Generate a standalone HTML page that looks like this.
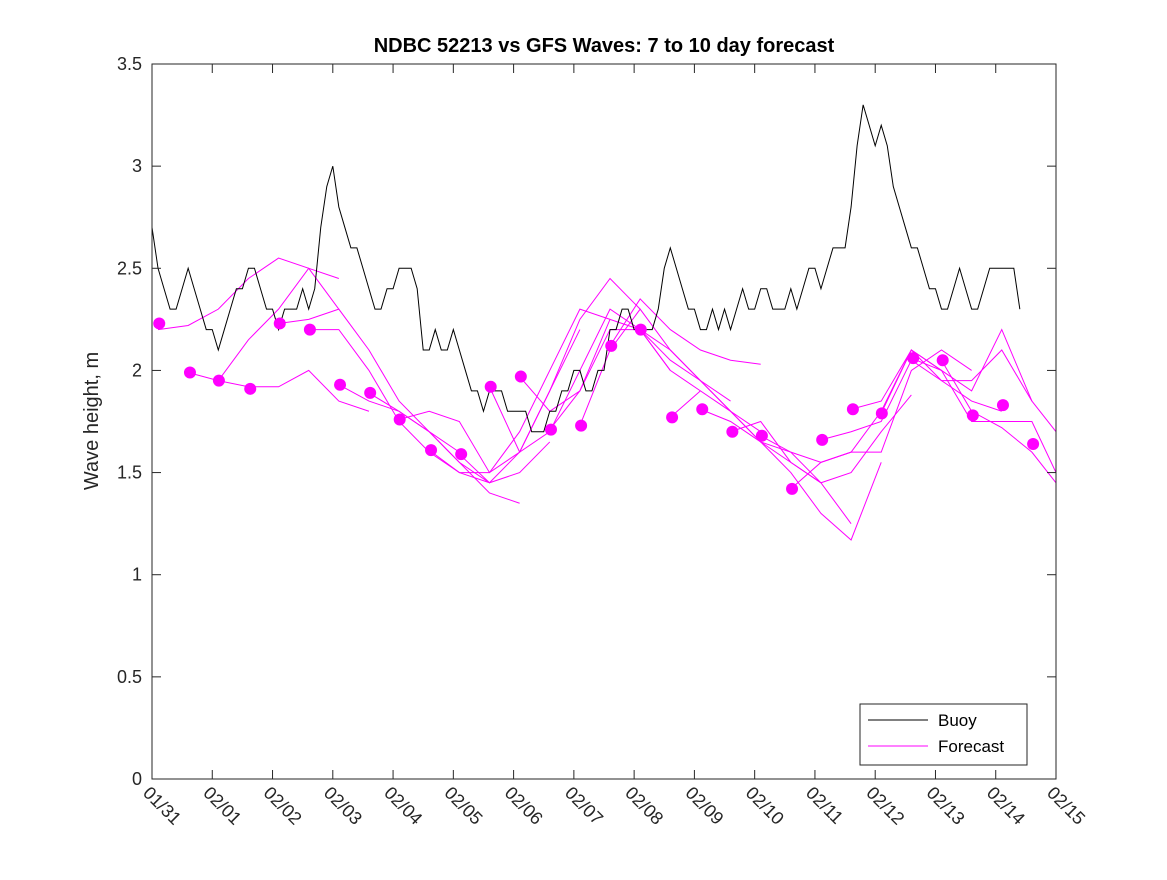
<!DOCTYPE html>
<html><head><meta charset="utf-8"><style>
body{margin:0;background:#fff;}
svg text{font-family:"Liberation Sans","DejaVu Sans",sans-serif;}
</style></head><body>
<svg id="chart" width="1167" height="875" viewBox="0 0 1167 875" xmlns="http://www.w3.org/2000/svg">
<rect width="1167" height="875" fill="#fff"/>
<text x="604" y="52" text-anchor="middle" font-size="20" font-weight="bold" fill="#000">NDBC 52213 vs GFS Waves: 7 to 10 day forecast</text>
<text transform="translate(98,421) rotate(-90)" text-anchor="middle" font-size="20" fill="#262626">Wave height, m</text>
<g id="plot"></g>
</svg>
<script>
const xTickLabels=["01/31","02/01","02/02","02/03","02/04","02/05","02/06","02/07","02/08","02/09","02/10","02/11","02/12","02/13","02/14","02/15"];
const yTickValues=[0,0.5,1,1.5,2,2.5,3,3.5];
const yTickLabels=["0","0.5","1","1.5","2","2.5","3","3.5"];
const buoyStart=0, buoyStep=0.1;
const buoyValues=[2.7,2.5,2.4,2.3,2.3,2.4,2.5,2.4,2.3,2.2,2.2,2.1,2.2,2.3,2.4,2.4,2.5,2.5,2.4,2.3,2.3,2.2,2.3,2.3,2.3,2.4,2.3,2.4,2.7,2.9,3.0,2.8,2.7,2.6,2.6,2.5,2.4,2.3,2.3,2.4,2.4,2.5,2.5,2.5,2.4,2.1,2.1,2.2,2.1,2.1,2.2,2.1,2.0,1.9,1.9,1.8,1.9,1.9,1.9,1.8,1.8,1.8,1.8,1.7,1.7,1.7,1.8,1.8,1.9,1.9,2.0,2.0,1.9,1.9,2.0,2.0,2.2,2.2,2.3,2.3,2.2,2.2,2.2,2.2,2.3,2.5,2.6,2.5,2.4,2.3,2.3,2.2,2.2,2.3,2.2,2.3,2.2,2.3,2.4,2.3,2.3,2.4,2.4,2.3,2.3,2.3,2.4,2.3,2.4,2.5,2.5,2.4,2.5,2.6,2.6,2.6,2.8,3.1,3.3,3.2,3.1,3.2,3.1,2.9,2.8,2.7,2.6,2.6,2.5,2.4,2.4,2.3,2.3,2.4,2.5,2.4,2.3,2.3,2.4,2.5,2.5,2.5,2.5,2.5,2.3];
const dotDays=[0.12,0.63,1.11,1.63,2.12,2.62,3.12,3.62,4.11,4.63,5.13,5.62,6.12,6.62,7.12,7.62,8.11,8.63,9.13,9.63,10.12,10.62,11.12,11.63,12.11,12.63,13.12,13.62,14.12,14.62];
const dotValues=[2.23,1.99,1.95,1.91,2.23,2.20,1.93,1.89,1.76,1.61,1.59,1.92,1.97,1.71,1.73,2.12,2.20,1.77,1.81,1.70,1.68,1.42,1.66,1.81,1.79,2.06,2.05,1.78,1.83,1.64];
const fcStarts=[0.1,0.6,1.1,2.1,2.6,3.1,3.6,4.1,4.6,5.1,5.6,6.1,6.6,7.1,7.6,8.1,8.6,9.1,9.6,10.1,10.6,11.1,11.6,12.1,12.6,13.1];
const fcStep=0.5;
const fcValues=[
[2.2,2.22,2.3,2.45,2.55,2.5,2.3],
[1.99,1.95,1.92,1.92,2.0,1.85,1.8],
[1.95,2.15,2.3,2.5,2.45],
[2.23,2.25,2.3,2.1,1.85,1.7,1.6],
[2.2,2.2,2.0,1.75,1.6,1.5,1.45],
[1.93,1.85,1.8,1.7,1.55,1.4,1.35],
[1.89,1.8,1.7,1.55,1.45,1.5,1.65],
[1.76,1.8,1.75,1.5,1.6,1.9,2.2],
[1.61,1.5,1.5,1.7,2.0,2.3,2.25],
[1.59,1.45,1.6,1.9,2.25,2.45,2.3],
[1.92,1.6,1.7,2.0,2.3,2.2,2.0],
[1.97,1.8,1.9,2.2,2.2,2.0,1.9],
[1.71,1.9,2.25,2.2,2.05,1.95,1.85],
[1.73,2.1,2.3,2.1,1.95,1.8,1.7],
[2.12,2.35,2.2,2.1,2.05,2.03],
[2.2,2.1,1.95,1.8,1.65,1.55,1.45],
[1.77,1.9,1.8,1.65,1.6,1.45,1.25],
[1.81,1.75,1.65,1.5,1.3,1.17,1.55],
[1.70,1.75,1.55,1.45,1.5,1.7,1.88],
[1.68,1.6,1.55,1.6,1.8,2.1,2.0],
[1.42,1.55,1.6,1.6,2.0,2.1,2.0],
[1.66,1.7,1.75,2.05,1.95,1.85,1.8],
[1.81,1.85,2.1,2.0,1.9,2.2,1.85],
[1.79,2.1,1.95,1.95,2.1,1.85,1.7],
[2.06,2.0,1.75,1.75,1.75,1.5],
[2.05,1.8,1.72,1.6,1.45,1.38]
];
const X0=152,X1=1056,Y0=779,Y1=64,DMAX=15,VMAX=3.5;
const xs=d=>X0+(Math.min(d,DMAX))/DMAX*(X1-X0);
const ys=v=>Y0-v/VMAX*(Y0-Y1);
const NS="http://www.w3.org/2000/svg";
const g=document.getElementById('plot');
function mk(t,a){const e=document.createElementNS(NS,t);for(const k in a)e.setAttribute(k,a[k]);g.appendChild(e);return e;}
const defs=mk('defs',{});const cp=document.createElementNS(NS,'clipPath');cp.setAttribute('id','pc');const cr=document.createElementNS(NS,'rect');cr.setAttribute('x',X0);cr.setAttribute('y',Y1);cr.setAttribute('width',X1-X0);cr.setAttribute('height',Y0-Y1);cp.appendChild(cr);defs.appendChild(cp);
const bg=mk('rect',{x:X0,y:Y1,width:X1-X0,height:Y0-Y1,fill:'#fff'});


fcValues.forEach((arr,i)=>{
 let pts=arr.map((v,j)=>{const d=fcStarts[i]+j*fcStep;return d<=DMAX+0.5?xs(d)+','+ys(v):null;}).filter(Boolean).join(' ');
 const p=mk('polyline',{points:pts,fill:'none',stroke:'#ff00ff','stroke-width':1,'clip-path':'url(#pc)'});
 
 
});
const bp=buoyValues.map((v,i)=>xs(buoyStart+i*buoyStep)+','+ys(v)).join(' ');
const bl=mk('polyline',{points:bp,fill:'none',stroke:'#000','stroke-width':1});


dotDays.forEach((d,i)=>{
 const c=mk('circle',{cx:xs(d),cy:ys(dotValues[i]),r:6,fill:'#ff00ff'});
 
 
});
const bx=mk('rect',{x:X0,y:Y1,width:X1-X0,height:Y0-Y1,fill:'none',stroke:'#262626','stroke-width':1});


yTickValues.forEach((v,i)=>{
 const y=ys(v);
 mk('line',{x1:X0,x2:X0+9,y1:y,y2:y,stroke:'#262626'});
 mk('line',{x1:X1,x2:X1-9,y1:y,y2:y,stroke:'#262626'});
 const t=mk('text',{x:X0-10,y:y+6,'text-anchor':'end','font-size':18,fill:'#262626'});t.textContent=yTickLabels[i];
 
 
});
xTickLabels.forEach((lab,i)=>{
 const x=xs(i);
 mk('line',{x1:x,x2:x,y1:Y0,y2:Y0-9,stroke:'#262626'});
 mk('line',{x1:x,x2:x,y1:Y1,y2:Y1+9,stroke:'#262626'});
 const t=mk('text',{transform:`translate(${x-10},${Y0+15}) rotate(45)`,'font-size':18,fill:'#262626'});t.textContent=lab;
 
 
});
const lg=mk('rect',{x:860,y:704,width:167,height:61,fill:'#fff',stroke:'#262626'});


mk('line',{x1:868,x2:928,y1:720,y2:720,stroke:'#000'});
mk('line',{x1:868,x2:928,y1:746,y2:746,stroke:'#ff00ff'});
const l1=mk('text',{x:938,y:726,'font-size':17,fill:'#000'});l1.textContent='Buoy';


const l2=mk('text',{x:938,y:752,'font-size':17,fill:'#000'});l2.textContent='Forecast';


</script>
</body></html>
